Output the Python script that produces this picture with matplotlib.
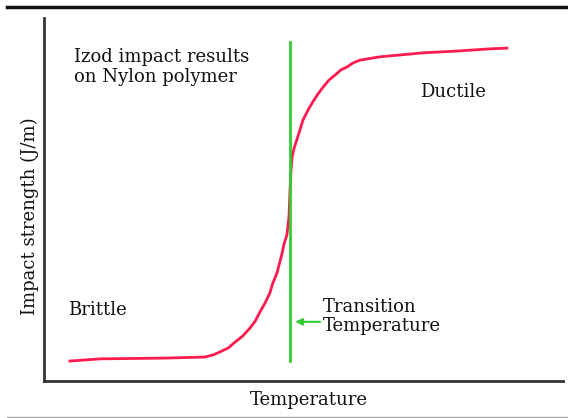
import matplotlib
matplotlib.use('Agg')
import matplotlib.pyplot as plt
from matplotlib.lines import Line2D

# curve (arbitrary units, 0-100 on both axes)
temperature = [5.0, 10.8, 22.9, 31.0, 32.6, 33.9, 35.5, 36.8, 38.3, 39.7, 40.7, 41.6,
               42.6, 43.5, 44.1, 44.9, 45.3, 45.9, 46.2, 46.8, 47.2, 47.4, 47.6, 47.8,
               48.2, 48.7, 49.3, 49.9, 50.9, 51.8, 52.8, 53.8, 54.9, 56.1, 57.2, 58.4,
               59.5, 60.9, 64.7, 73.0, 79.6, 85.9, 89.2]
strength = [5.5, 6.1, 6.3, 6.6, 7.2, 8.0, 9.1, 10.7, 12.4, 14.6, 16.5, 19.0,
            21.5, 24.2, 27.0, 29.8, 32.0, 35.3, 37.5, 40.2, 45.2, 52.6, 58.1, 61.7,
            64.2, 66.4, 69.1, 71.9, 74.7, 76.9, 79.1, 81.0, 82.9, 84.3, 85.7, 86.5,
            87.6, 88.4, 89.3, 90.4, 90.9, 91.5, 91.7]
transition_t = 47.4
transition_range = [5.5, 93.4]

W, H = 568, 418
fig = plt.figure(figsize=(W / 100, H / 100), dpi=100)
ax = fig.add_axes([44 / W, (H - 381) / H, 519 / W, 363 / H])

font = dict(family='DejaVu Serif', fontsize=13, color='#111111')

ax.plot(temperature, strength, color='#ff1a4f', lw=2)
ax.plot([transition_t, transition_t], transition_range, color='#33cc33', lw=2)

ax.set_xlim(0, 100)
ax.set_ylim(0, 100)
ax.set_xticks([])
ax.set_yticks([])
for s in ['top', 'right']:
    ax.spines[s].set_visible(False)
for s in ['left', 'bottom']:
    ax.spines[s].set_linewidth(2)
    ax.spines[s].set_color('#333333')

ax.set_xlabel('Temperature', va='center', **font)
ax.xaxis.set_label_coords(0.51, -0.052)
ax.set_ylabel('Impact strength (J/m)', va='center', **font)
ax.yaxis.set_label_coords(-0.027, 0.455)

ax.text(5.8, 91.7, 'Izod impact results\non Nylon polymer', va='top',
        linespacing=1.1, **font)
ax.text(72.4, 78.2, 'Ductile', va='baseline', **font)
ax.text(4.6, 18.2, 'Brittle', va='baseline', **font)
ax.text(53.8, 22.9, 'Transition\nTemperature', va='top', linespacing=1.1, **font)
ax.annotate('', xy=(48.4, 16.3), xytext=(53.2, 16.3),
            arrowprops=dict(arrowstyle='-|>', color='#33cc33', lw=1.5,
                            mutation_scale=10, shrinkA=0, shrinkB=0))

# frame lines of the original picture
fig.add_artist(Line2D([7 / W, 1], [1 - 6.5 / H, 1 - 6.5 / H], color='#111111', lw=2.5))
fig.add_artist(Line2D([7 / W, 1], [1 - 416.5 / H, 1 - 416.5 / H], color='#aaaaaa', lw=1))

fig.savefig('out.png', dpi=100)
